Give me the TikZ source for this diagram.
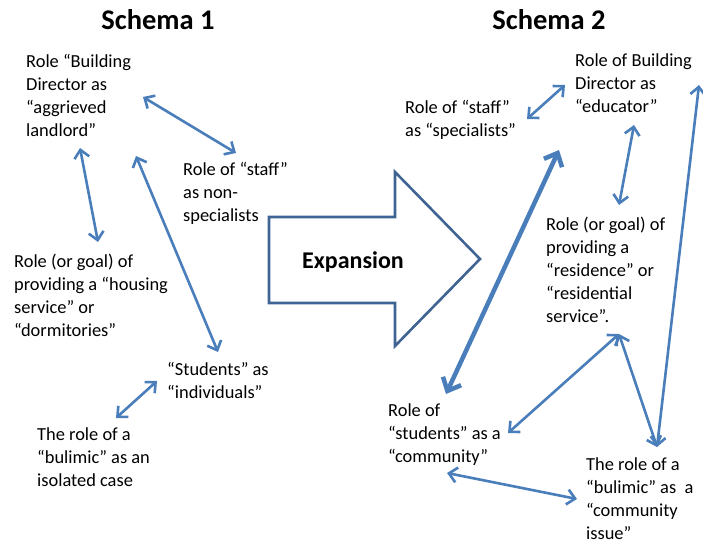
\documentclass[tikz,border=0pt]{standalone}
\usepackage{fontspec}
\setmainfont{Carlito}
\usetikzlibrary{arrows.meta}
\definecolor{linkblue}{HTML}{4A7EBB}
\definecolor{shiftblue}{HTML}{3F6494}
\begin{document}
\begin{tikzpicture}[x=1pt,y=-1pt,
  role/.style={anchor=north west, align=left, inner sep=0pt,
    font=\fontsize{18.4}{23}\selectfont},
  heading/.style={font=\fontsize{28.5}{32}\selectfont\bfseries},
  relation/.style={draw=linkblue, line width=2.6pt, {Straight Barb[length=8pt,width=15pt]}-{Straight Barb[length=8pt,width=15pt]}},
  strongrelation/.style={draw=linkblue, line width=4.5pt, {Straight Barb[length=11pt,width=20pt]}-{Straight Barb[length=11pt,width=20pt]}},
  shiftarrow/.style={draw=shiftblue, line width=2.6pt, fill=white, line join=miter},
]
\useasboundingbox (0,0) rectangle (703,545);

% headings
\node[heading] (h1) at (158,20) {Schema 1};
\node[heading] (h2) at (549,20) {Schema 2};

% ---- first schema ----
\node[role] (bd1) at (26,54) {Role “Building\\Director as\\“aggrieved\\landlord”};
\node[role] (st1) at (183,162) {Role of “staff”\\as non-\\specialists};
\node[role] (rg1) at (14,254) {Role (or goal) of\\providing a “housing\\service” or\\“dormitories”};
\node[role] (su1) at (167,362) {“Students” as\\“individuals”};
\node[role] (bu1) at (37,428) {The role of a\\“bulimic” as an\\isolated case};

\coordinate (bd1-e) at (143,97);
\coordinate (st1-n) at (236,153);
\coordinate (bd1-s) at (80,148);
\coordinate (rg1-n) at (98,242);
\coordinate (bd1-se) at (136,156);
\coordinate (su1-n) at (218,352);
\coordinate (su1-w) at (157,381);
\coordinate (bu1-ne) at (116,418);

\draw[relation] (bd1-e) -- (st1-n);
\draw[relation] (bd1-s) -- (rg1-n);
\draw[relation] (bd1-se) -- (su1-n);
\draw[relation] (su1-w) -- (bu1-ne);

% ---- expansion arrow ----
\draw[shiftarrow] (269,217) -- (395,217) -- (395,172) -- (480,259)
  -- (395,346) -- (395,303) -- (269,303) -- cycle;
\node[font=\fontsize{24}{28}\selectfont\bfseries] (exp) at (353,262) {Expansion};

% ---- second schema ----
\node[role] (bd2) at (575,54) {Role of Building\\Director as\\“educator”};
\node[role] (st2) at (405,100) {Role of “staff”\\as “specialists”};
\node[role] (rg2) at (546,217) {Role (or goal) of\\providing a\\“residence” or\\“residential\\service”.};
\node[role] (su2) at (388,404) {Role of\\“students” as a\\“community”};
\node[role] (bu2) at (586,458) {The role of a\\“bulimic” as\ \ a\\“community\\issue”};

\coordinate (st2-e) at (527,119);
\coordinate (bd2-w) at (565,85);
\coordinate (bd2-s) at (634,125);
\coordinate (rg2-n) at (619,205);
\coordinate (st2-s) at (559,150);
\coordinate (su2-n) at (446,394);
\coordinate (bd2-e) at (699,85);
\coordinate (bu2-n) at (657,447);
\coordinate (rg2-s) at (619,334);
\coordinate (su2-e) at (508,433);
\coordinate (su2-s) at (447,473);
\coordinate (bu2-w) at (577,499);

\draw[relation] (st2-e) -- (bd2-w);
\draw[relation] (bd2-s) -- (rg2-n);
\draw[strongrelation] (st2-s) -- (su2-n);
\draw[relation] (bd2-e) -- (bu2-n);
\draw[relation] (rg2-s) -- (bu2-n);
\draw[relation] (rg2-s) -- (su2-e);
\draw[relation] (su2-s) -- (bu2-w);
\end{tikzpicture}
\end{document}
